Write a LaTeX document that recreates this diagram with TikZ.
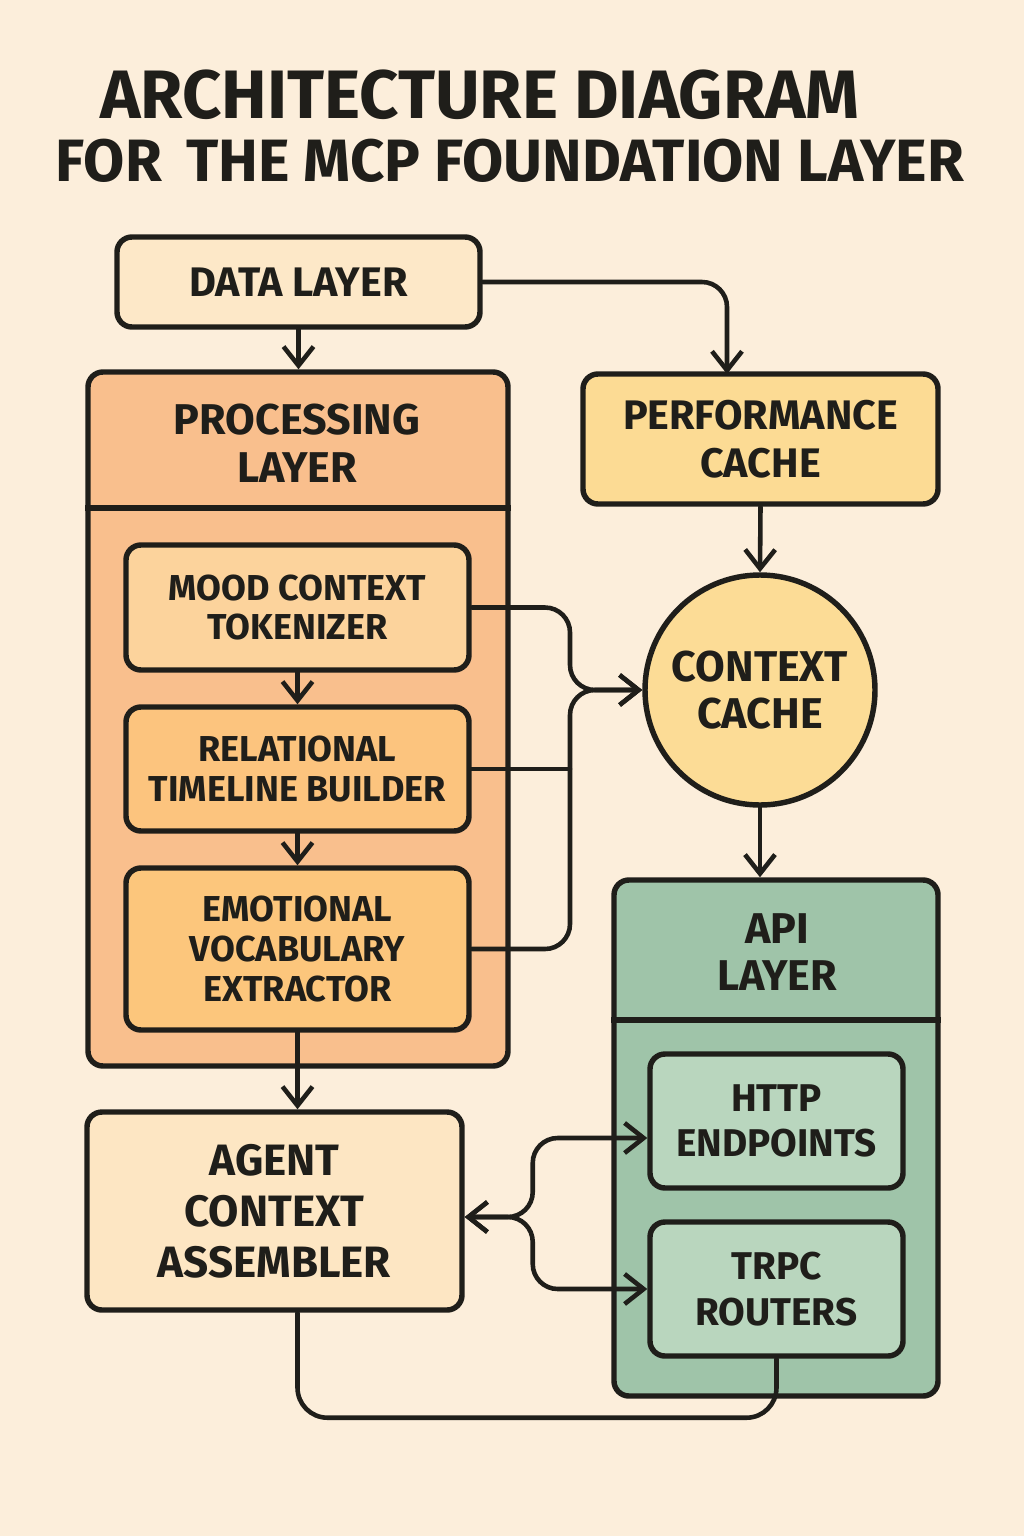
\documentclass[tikz,border=0pt]{standalone}
\usepackage{fontspec}
\setmainfont{Fira Sans}
\usetikzlibrary{arrows.meta,positioning}
\definecolor{bgcol}{HTML}{FCEEDB}
\definecolor{ink}{HTML}{1F1E1A}
\definecolor{datafill}{HTML}{FDE8C8}
\definecolor{procfill}{HTML}{F9BF8D}
\definecolor{moodfill}{HTML}{FCD39C}
\definecolor{relfill}{HTML}{FCC47E}
\definecolor{emofill}{HTML}{FCC67C}
\definecolor{perffill}{HTML}{FCDB94}
\definecolor{ctxfill}{HTML}{FCDC96}
\definecolor{apifill}{HTML}{9FC4A9}
\definecolor{httpfill}{HTML}{B9D6BE}
\definecolor{agentfill}{HTML}{FDE6C3}
\tikzset{
  box/.style={draw=ink, line width=3.1pt, rounded corners=0.3cm, align=center,
    font=\bfseries\fontsize{23.5}{27}\selectfont, text=ink},
  inner/.style={box, minimum width=6.86cm, fill=#1,
    font=\bfseries\fontsize{20.5}{22.5}\selectfont},
  layer/.style={box, fill=#1, inner sep=0pt},
  head/.style={font=\bfseries\fontsize{24.5}{27}\selectfont, text=ink, align=center},
  wire/.style={draw=ink, line width=2.6pt, line cap=round, rounded corners=0.5cm},
  tip/.style={-{Straight Barb[length=0.38cm,width=0.6cm,line width=2.6pt]}},
  tips/.style={{Straight Barb[length=0.38cm,width=0.6cm,line width=2.6pt]}-{Straight Barb[length=0.38cm,width=0.6cm,line width=2.6pt]}},
}
\begin{document}
\begin{tikzpicture}[y=-1cm]
\fill[bgcol] (0,0) rectangle (20.48,30.72);
\useasboundingbox (0,0) rectangle (20.48,30.72);
% title
\node[font=\bfseries\fontsize{39}{42}\selectfont, text=ink] (title1) at (9.60,1.90) {ARCHITECTURE DIAGRAM};
\node[font=\bfseries\fontsize{34}{38}\selectfont, text=ink] (title2) at (10.20,3.22) {FOR\, THE MCP FOUNDATION LAYER};
% layers
\node[box, fill=datafill, minimum width=7.26cm, minimum height=1.80cm] (data) at (5.97,5.64) {DATA LAYER};
\node[layer=procfill, minimum width=8.40cm, minimum height=13.88cm] (proc) at (5.96,14.38) {};
\draw[ink, line width=3.1pt] (proc.west |- 0,10.16) -- (proc.east |- 0,10.16);
\node[head] (proctitle) at (5.94,8.86) {PROCESSING\\LAYER};
\node[inner=moodfill, minimum height=2.50cm] (mood) at (5.95,12.15) {MOOD CONTEXT\\TOKENIZER};
\node[inner=relfill, minimum height=2.48cm] (rel) at (5.95,15.38) {RELATIONAL\\TIMELINE BUILDER};
\node[inner=emofill, minimum height=3.24cm] (emo) at (5.95,18.98) {EMOTIONAL\\VOCABULARY\\EXTRACTOR};
\node[box, fill=perffill, minimum width=7.10cm, minimum height=2.60cm] (perf) at (15.21,8.78) {PERFORMANCE\\CACHE};
\node[box, circle, fill=ctxfill, minimum size=4.60cm, head] (ctx) at (15.20,13.80) {CONTEXT\\CACHE};
\node[layer=apifill, minimum width=6.48cm, minimum height=10.32cm] (api) at (15.52,22.76) {};
\draw[ink, line width=3.1pt] (api.west |- 0,20.40) -- (api.east |- 0,20.40);
\node[head] (apititle) at (15.54,19.04) {API\\LAYER};
\node[box, fill=httpfill, minimum width=5.06cm, minimum height=2.68cm,
  font=\bfseries\fontsize{22}{26}\selectfont] (http) at (15.53,22.42) {HTTP\\ENDPOINTS};
\node[box, fill=httpfill, minimum width=5.06cm, minimum height=2.68cm,
  font=\bfseries\fontsize{22}{26}\selectfont] (trpc) at (15.53,25.78) {TRPC\\ROUTERS};
\node[box, fill=agentfill, minimum width=7.50cm, minimum height=3.96cm,
  font=\bfseries\fontsize{25}{29}\selectfont] (agent) at (5.49,24.22) {AGENT\\CONTEXT\\ASSEMBLER};
% connectors
\coordinate (perfin) at (14.54,7.48);
\coordinate (ctxin) at (11.40,13.80);
\draw[wire, tip] (data.south) -- (data.south |- proc.north);
\draw[wire, tip] (data.east) -| (perfin);
\draw[wire, tip] (perf.south) -- (ctx.north);
\draw[wire, tip] (mood.south) -- (rel.north);
\draw[wire, tip] (rel.south) -- (emo.north);
\draw[wire, tip] (mood.east) -| (ctxin) -- (ctx.west);
\draw[wire] (rel.east) -- (rel.east -| ctxin);
\draw[wire, tip] (emo.east) -| (ctxin) -- (ctx.west);
\draw[wire, tip] (ctx.south) -- (ctx.south |- api.north);
\draw[wire, tip] (emo.south) -- (emo.south |- agent.north);
\draw[wire, tips] ([yshift=-0.12cm]agent.east) -- ++(1.36,0) |- ([yshift=-0.34cm]http.west);
\draw[wire, tips] ([yshift=-0.12cm]agent.east) -- ++(1.36,0) |- (trpc.west);
\draw[wire, rounded corners=0.6cm] (emo.south |- agent.south) -- ++(0,2.10) -| (trpc.south);
\end{tikzpicture}
\end{document}
